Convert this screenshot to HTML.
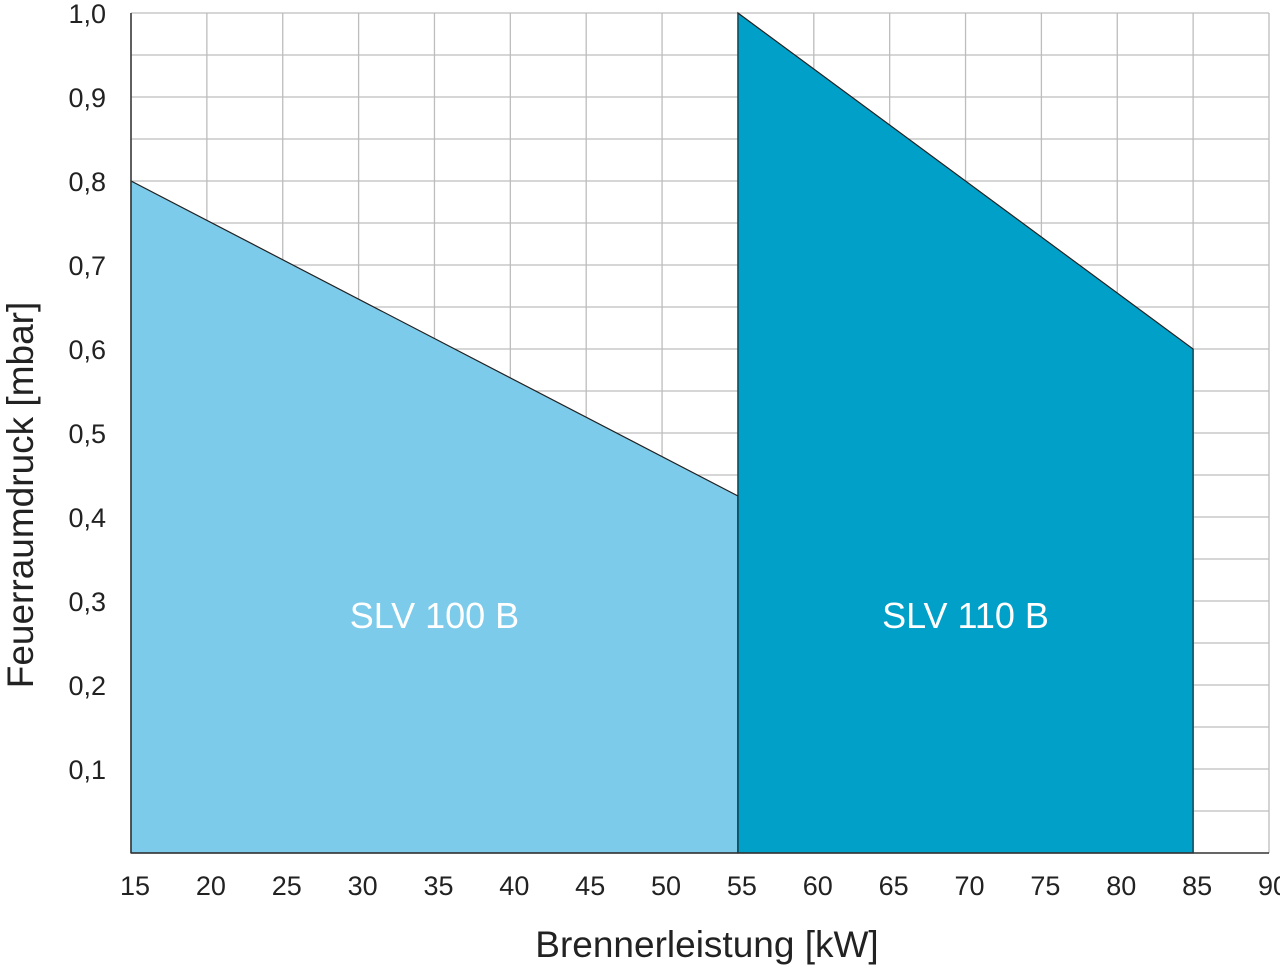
<!DOCTYPE html>
<html><head><meta charset="utf-8"><style>
html,body{margin:0;padding:0;background:#fff;}
svg{display:block;font-family:"Liberation Sans",Arial,sans-serif;}
</style></head><body>
<svg id="chart" width="1280" height="968" viewBox="0 0 1280 968">
<g id="grid"></g>
<g id="areas"></g>
<g id="axes"></g>
<text x="707" y="957" font-size="37" text-anchor="middle" fill="#222">Brennerleistung [kW]</text>
<text transform="translate(33,495) rotate(-90)" font-size="37" text-anchor="middle" fill="#222">Feuerraumdruck [mbar]</text>
</svg>
<script>
const xTicks=[15,20,25,30,35,40,45,50,55,60,65,70,75,80,85,90];
const yTicks=[0.1,0.2,0.3,0.4,0.5,0.6,0.7,0.8,0.9,1.0];
const slv100X=[15,55];
const slv100Y=[0.8,0.425];
const slv110X=[55,85];
const slv110Y=[1.0,0.6];
const seriesNames=["SLV 100 B","SLV 110 B"];
const NS="http://www.w3.org/2000/svg";
const X=v=>131+(v-15)*(1269-131)/75;
const Y=v=>853-v*840;
function mk(tag,attrs,parent){const e=document.createElementNS(NS,tag);for(const k in attrs)e.setAttribute(k,attrs[k]);parent.appendChild(e);return e;}
const grid=document.getElementById('grid'),areas=document.getElementById('areas'),axes=document.getElementById('axes');
for(let v=15;v<=90;v+=5){const l=mk('line',{x1:X(v),x2:X(v),y1:Y(1),y2:Y(0),stroke:'#bdbdbd','stroke-width':1.3},grid);
}
for(let i=1;i<=20;i++){const v=i*0.05;const l=mk('line',{x1:X(15),x2:X(90),y1:Y(v),y2:Y(v),stroke:'#bdbdbd','stroke-width':1.3},grid);
}
function area(xs,ys,fill,name,label){
 const d=`M${X(xs[0])},${Y(0)} L${X(xs[0])},${Y(ys[0])} L${X(xs[1])},${Y(ys[1])} L${X(xs[1])},${Y(0)} Z`;
 const p=mk('path',{d:d,fill:fill,stroke:'#222','stroke-width':1.2},areas);
 
 const t=mk('text',{x:(X(xs[0])+X(xs[1]))/2,y:628,'font-size':36,'text-anchor':'middle',fill:'#fff'},areas);
 t.textContent=label;
}
area(slv100X,slv100Y,'#7ccbeb','area-slv-100-b',seriesNames[0]);
area(slv110X,slv110Y,'#00a0c8','area-slv-110-b',seriesNames[1]);
const ax=mk('line',{x1:X(15),x2:X(15),y1:Y(1),y2:Y(0),stroke:'#333','stroke-width':1.5},axes);

const bx=mk('line',{x1:X(15),x2:X(90),y1:Y(0),y2:Y(0),stroke:'#333','stroke-width':1.5},axes);

xTicks.forEach(v=>{const t=mk('text',{x:X(v)+4,y:895,'font-size':27,'text-anchor':'middle',fill:'#222'},axes);
t.textContent=v;});
yTicks.forEach(v=>{const t=mk('text',{x:106,y:Y(v)+10,'font-size':27,'text-anchor':'end',fill:'#222'},axes);
t.textContent=v.toFixed(1).replace('.',',');});
</script>
</body></html>
